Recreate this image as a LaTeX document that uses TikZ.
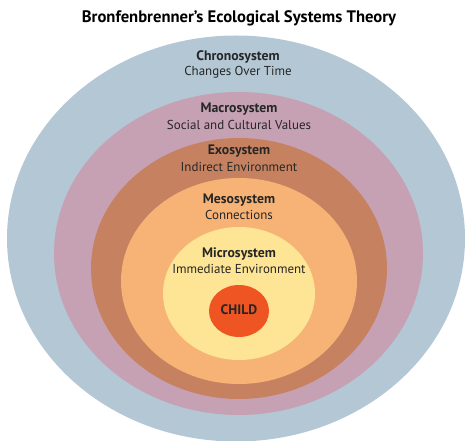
\documentclass[tikz,border=0pt]{standalone}
\usepackage{fontspec}
\setmainfont{PT Sans}
\begin{document}
\begin{tikzpicture}[x=1bp,y=-1bp,
  ring/.style={draw=none},
  head/.style={font=\bfseries\fontsize{13.8}{16}\selectfont, inner sep=0pt, text=black!85},
  sub/.style={font=\fontsize{13}{15}\selectfont, inner sep=0pt, text=black!85}]
\definecolor{chronoC}{HTML}{B4C7D5}
\definecolor{macroC}{HTML}{C6A1B4}
\definecolor{exoC}{HTML}{C68260}
\definecolor{mesoC}{HTML}{F6B375}
\definecolor{microC}{HTML}{FDE595}
\definecolor{childC}{HTML}{EF5423}
\useasboundingbox (0,0) rectangle (467,441);
% nested systems, outermost first
\fill[ring, chronoC] (236,238.5) ellipse [x radius=229, y radius=203];
\fill[ring, macroC]  (238.5,253.5) ellipse [x radius=184.5, y radius=161.5];
\fill[ring, exoC]    (239,268.5) ellipse [x radius=148, y radius=130.5];
\fill[ring, mesoC]   (239,281) ellipse [x radius=118, y radius=103];
\fill[ring, microC]  (239,293.5) ellipse [x radius=76, y radius=66.5];
\fill[ring, childC]  (239,311) ellipse [x radius=30, y radius=26];
% labels
\node[font=\bfseries\fontsize{16.7}{20}\selectfont, inner sep=0pt] (title) at (239,18) {Bronfenbrenner’s Ecological Systems Theory};
\node[head] (chronoH) at (238,57) {Chronosystem};
\node[sub]  (chronoS) at (238,72) {Changes Over Time};
\node[head] (macroH) at (239,109) {Macrosystem};
\node[sub]  (macroS) at (239,125) {Social and Cultural Values};
\node[head] (exoH) at (239,151.5) {Exosystem};
\node[sub]  (exoS) at (239,167) {Indirect Environment};
\node[head] (mesoH) at (239,200) {Mesosystem};
\node[sub]  (mesoS) at (239,215) {Connections};
\node[head] (microH) at (239,254) {Microsystem};
\node[sub]  (microS) at (239,269) {Immediate Environment};
\node[head] (child) at (239,310) {CHILD};
\end{tikzpicture}
\end{document}
